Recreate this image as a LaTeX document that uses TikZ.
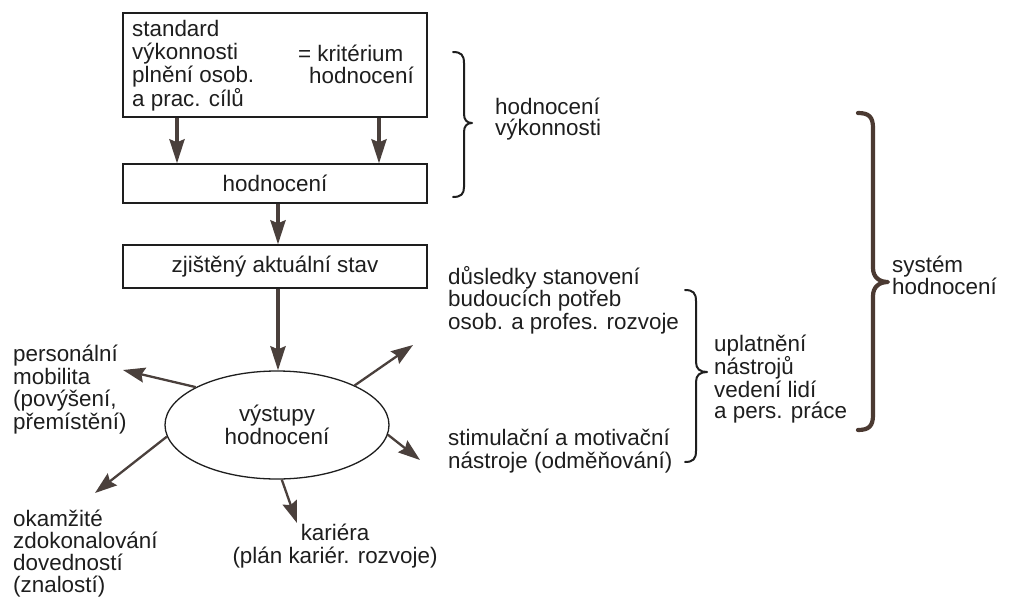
\documentclass[tikz,border=0pt]{standalone}
\usepackage{fontspec}
\setmainfont{Liberation Sans}
\usetikzlibrary{shapes.geometric,arrows.meta}
\definecolor{ink}{HTML}{1E1E1E}
\definecolor{arrowc}{HTML}{4A403C}
\definecolor{bracec}{HTML}{4B3A32}
\begin{document}
\begin{tikzpicture}[x=1pt,y=-1pt,
  every node/.style={font=\fontsize{22.4}{22.4}\selectfont, text=ink, inner sep=0pt},
  txt/.style={anchor=base west, align=left},
  boxed/.style={draw=ink, line width=1.3pt},
  bigarr/.style={draw=arrowc, line width=3.6pt, -{Stealth[length=24pt,width=15pt,inset=3pt,fill=arrowc]}},
  outarr/.style={draw=arrowc, line width=2.3pt, -{Stealth[length=22pt,width=15pt,inset=3pt,fill=arrowc]}},
  bracestroke/.style={draw=ink, line width=2pt, line cap=round, line join=round}]
\useasboundingbox (0,0) rectangle (1011,597);
\fill[white] (0,0) rectangle (1011,597);

% boxes of the evaluation flow (multi-line texts are anchored at their last baseline)
\node[boxed, minimum width=304pt, minimum height=104pt] (std) at (275,65) {};
\node[txt, font=\fontsize{22.4}{22.7}\selectfont] (stdtxt) at (132,106) {standard\\výkonnosti\\plnění osob.\\a prac. cílů};
\node[txt] (krit) at (298,61) {= kritérium};
\node[txt] (krith) at (309,83) {hodnocení};

\node[boxed, minimum width=304pt, minimum height=39pt] (hod) at (275,183.5) {hodnocení};
\node[boxed, minimum width=304pt, minimum height=43pt] (stav) at (275,266.5) {zjištěný aktuální stav};

\node[boxed, ellipse, minimum width=224pt, minimum height=108pt, align=center] (ell) at (277,425) {výstupy\\hodnocení};

% flow arrows
\draw[bigarr] (std.south -| 177,0) -- (hod.north -| 177,0);
\draw[bigarr] (std.south -| 379,0) -- (hod.north -| 379,0);
\draw[bigarr] (hod.south -| 278,0) -- (stav.north -| 278,0);
\draw[bigarr] (stav.south -| 278,0) -- (ell.north -| 278,0);

% outputs of the evaluation
\coordinate (eMob) at (123,370);
\coordinate (eZdo) at (95,493);
\coordinate (eKar) at (297,523);
\coordinate (eSti) at (420,460);
\coordinate (eDus) at (413,345);
\draw[outarr] (ell.155) -- (eMob);
\draw[outarr] (ell.186) -- (eZdo);
\draw[outarr] (ell.275) -- (eKar);
\draw[outarr] (ell.355) -- (eSti);
\draw[outarr] (ell.27) -- (eDus);

\node[txt, font=\fontsize{22.4}{22.4}\selectfont] (mob) at (13,429) {personální\\mobilita\\(povýšení,\\přemístění)};
\node[txt, font=\fontsize{22.4}{21.7}\selectfont] (zdo) at (13,592) {okamžité\\zdokonalování\\dovedností\\(znalostí)};
\node[anchor=base, align=center, font=\fontsize{22.4}{23}\selectfont] (kar) at (335,563) {kariéra\\(plán kariér. rozvoje)};
\node[txt] (dus) at (448,329) {důsledky stanovení\\budoucích potřeb\\osob. a profes. rozvoje};
\node[txt] (sti) at (448,468) {stimulační a motivační\\nástroje (odměňování)};

% braces and their labels
\draw[bracestroke] (453,52) .. controls (461,52) and (464,55) .. (464,63)
  -- (464,114) .. controls (464,120) and (467,123) .. (472,123)
  .. controls (467,123) and (464,126) .. (464,132)
  -- (464,187) .. controls (464,194) and (461,197) .. (453,197);
\node[txt, font=\fontsize{22.4}{21}\selectfont] (hvyk) at (495,135) {hodnocení\\výkonnosti};

\draw[bracestroke] (685,290) .. controls (693,290) and (696,293) .. (696,301)
  -- (696,362) .. controls (696,369) and (700,372) .. (707,372)
  .. controls (700,372) and (696,375) .. (696,382)
  -- (696,451) .. controls (696,459) and (693,462) .. (685,462);
\node[txt, font=\fontsize{22.4}{21}\selectfont] (upl) at (714,418) {uplatnění\\nástrojů\\vedení lidí\\a pers. práce};

\draw[bracestroke, draw=bracec, line width=4.2pt] (858,113) .. controls (869,113) and (873,117) .. (873,128)
  -- (873,268) .. controls (873,277) and (879,282) .. (888,282)
  .. controls (879,282) and (873,287) .. (873,296)
  -- (873,415) .. controls (873,426) and (869,430) .. (858,430);
\node[txt, font=\fontsize{22.4}{22}\selectfont] (sys) at (892,294) {systém\\hodnocení};
\end{tikzpicture}
\end{document}
